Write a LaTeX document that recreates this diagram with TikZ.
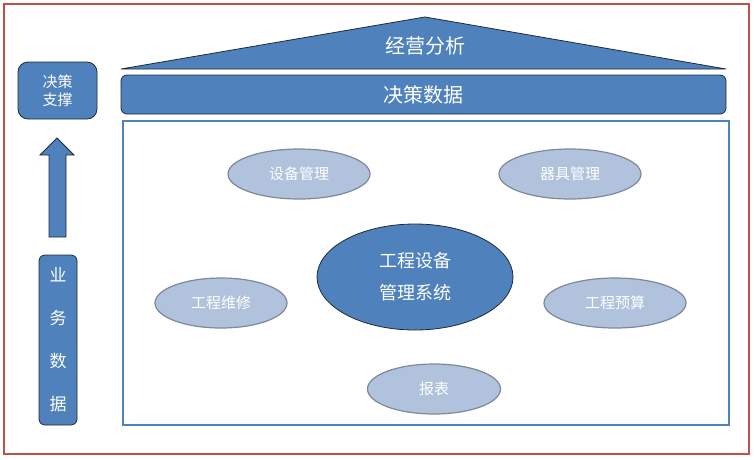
\documentclass[tikz,border=0pt]{standalone}
\usepackage{fontspec}
\setmainfont{Noto Sans CJK SC}
\usetikzlibrary{shapes.geometric}

\definecolor{boxblue}{HTML}{4F81BD}
\definecolor{lightblue}{HTML}{B1C2DD}
\definecolor{rimgray}{HTML}{7D889C}
\definecolor{framered}{HTML}{C0504D}
\definecolor{rimdark}{HTML}{1F2A38}

\begin{document}
\begin{tikzpicture}[
    x=1pt, y=-1pt,
    block/.style={rectangle, draw=rimdark, line width=0.8pt, fill=boxblue, rounded corners=6pt, inner sep=0pt, text=white},
    module/.style={ellipse, draw=rimgray, line width=1.2pt, fill=lightblue, inner sep=0pt, minimum width=142pt, minimum height=50pt, text=white, font=\fontsize{15}{17}\selectfont},
    core/.style={ellipse, draw=rimdark, line width=0.8pt, fill=boxblue, inner sep=0pt, minimum width=196pt, minimum height=106pt, text=white, align=center, font=\fontsize{18}{32}\selectfont}
]

\useasboundingbox (0,0) rectangle (754,459);

% --- Outer frame ---
\draw[framered, line width=1.6pt] (4,4) rectangle (749,454);

% --- Roof: analysis and decision data ---
\coordinate (roofL) at (121,69);
\coordinate (roofT) at (425,17);
\coordinate (roofR) at (726,69);
\filldraw[fill=boxblue, draw=rimdark, line width=0.8pt] (roofL) -- (roofT) -- (roofR) -- cycle;
\node[text=white, font=\fontsize{20}{22}\selectfont] (analyse) at (425,46) {经营分析};

\node[block, minimum width=605pt, minimum height=39pt, font=\fontsize{20}{22}\selectfont] (decdata) at (423.5,94.5) {决策数据};

% --- System area ---
\draw[boxblue, line width=1.6pt] (123,121) rectangle (729,425);

\node[core] (sys) at (415,277) {工程设备\\管理系统};

\node[module] (equip) at (299,174) {设备管理};
\node[module] (tools) at (570,174) {器具管理};
\node[module, minimum width=132pt] (repair) at (221,303) {工程维修};
\node[module] (budget) at (615,303) {工程预算};
\node[module, minimum width=133pt] (report) at (434,389) {报表};

% --- Left column: business data up to decision support ---
\node[block, rounded corners=10pt, minimum width=79pt, minimum height=57pt, align=center, font=\fontsize{15}{18}\selectfont] (support) at (57.5,90.5) {决策\\支撑};

\node[block, minimum width=38pt, minimum height=170pt, align=center, font=\fontsize{17}{43}\selectfont] (bizdata) at (58,340) {业\\务\\数\\据};

% Block arrow
\filldraw[fill=boxblue, draw=rimdark, line width=0.8pt]
    (57,138) -- (74,155) -- (66,155) -- (66,237) -- (49,237) -- (49,155) -- (40,155) -- cycle;

\end{tikzpicture}
\end{document}
